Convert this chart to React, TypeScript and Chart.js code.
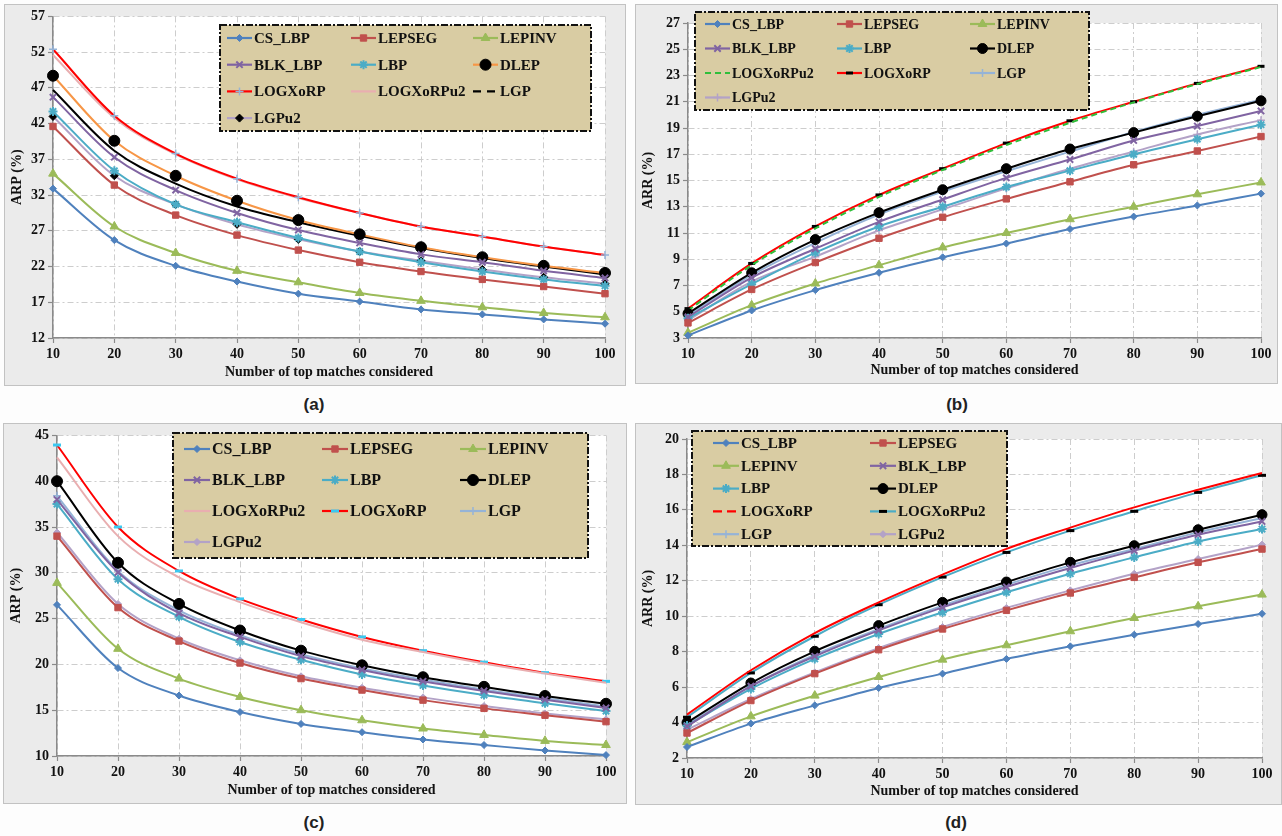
import React, { useEffect, useRef } from "react";
import { Chart, registerables } from "chart.js";
import { drawPoint } from "chart.js/helpers";

Chart.register(...registerables);

// ---------- data ----------
const xLabels = ["10", "20", "30", "40", "50", "60", "70", "80", "90", "100"];

// (a) ARP
const aCS_LBP = [32.9, 25.7, 22.1, 19.9, 18.2, 17.1, 16.0, 15.3, 14.6, 14.0];
const aLEPSEG = [41.6, 33.4, 29.2, 26.4, 24.3, 22.6, 21.3, 20.2, 19.2, 18.2];
const aLEPINV = [35.0, 27.6, 23.9, 21.4, 19.8, 18.3, 17.2, 16.3, 15.5, 14.9];
const aBLK_LBP = [45.7, 37.3, 32.7, 29.5, 27.1, 25.3, 23.7, 22.6, 21.4, 20.4];
const aLBP = [43.7, 35.4, 30.7, 28.2, 26.0, 24.1, 22.6, 21.3, 20.2, 19.3];
const aDLEP = [48.7, 39.6, 34.7, 31.2, 28.5, 26.5, 24.7, 23.3, 22.1, 21.1];
const aLOGXoRP = [52.4, 43.1, 37.8, 34.3, 31.7, 29.5, 27.6, 26.2, 24.8, 23.6];
const aLOGXoRPu2 = [51.6, 42.8, 37.7, 34.2, 31.6, 29.5, 27.6, 26.2, 24.8, 23.6];
const aLGP = [46.7, 38.2, 33.6, 30.4, 28.2, 26.3, 24.6, 23.2, 22.0, 20.9];
const aLGPu2 = [43.0, 34.7, 30.7, 27.9, 25.8, 24.1, 22.8, 21.6, 20.5, 19.6];

// (b) ARR
const bCS_LBP = [3.2, 5.1, 6.65, 7.97, 9.15, 10.2, 11.3, 12.25, 13.1, 14.0];
const bLEPSEG = [4.15, 6.7, 8.75, 10.6, 12.2, 13.6, 14.9, 16.2, 17.25, 18.35];
const bLEPINV = [3.4, 5.5, 7.15, 8.55, 9.9, 11.0, 12.05, 13.0, 13.95, 14.85];
const bBLK_LBP = [4.6, 7.6, 9.8, 11.85, 13.55, 15.2, 16.6, 18.05, 19.15, 20.3];
const bLBP = [4.5, 7.1, 9.5, 11.5, 13.0, 14.5, 15.75, 17.0, 18.15, 19.25];
const bDLEP = [4.86, 7.97, 10.5, 12.55, 14.3, 15.9, 17.4, 18.65, 19.9, 21.07];
const bLOGXoRPu2 = [5.1, 8.55, 11.35, 13.75, 15.8, 17.7, 19.4, 20.95, 22.35, 23.65];
const bLOGXoRP = [5.24, 8.68, 11.5, 13.9, 15.9, 17.85, 19.55, 21.0, 22.4, 23.7];
const bLGP = [4.7, 7.8, 10.25, 12.4, 14.15, 15.7, 17.2, 18.7, 20.0, 21.15];
const bLGPu2 = [4.35, 7.3, 9.2, 11.2, 12.8, 14.4, 15.9, 17.2, 18.5, 19.6];

// (c) ARP
const cCS_LBP = [26.5, 19.6, 16.6, 14.8, 13.5, 12.6, 11.8, 11.2, 10.6, 10.1];
const cLEPSEG = [34.0, 26.2, 22.55, 20.15, 18.45, 17.2, 16.1, 15.2, 14.45, 13.75];
const cLEPINV = [28.9, 21.7, 18.45, 16.45, 15.0, 13.9, 13.0, 12.3, 11.65, 11.2];
const cBLK_LBP = [38.0, 30.05, 25.6, 23.0, 20.9, 19.4, 18.15, 17.1, 16.15, 15.25];
const cLBP = [37.5, 29.3, 25.2, 22.45, 20.5, 18.9, 17.7, 16.65, 15.75, 14.9];
const cDLEP = [40.0, 31.1, 26.6, 23.7, 21.5, 19.9, 18.6, 17.55, 16.55, 15.7];
const cLOGXoRPu2 = [42.6, 34.0, 29.5, 26.8, 24.6, 22.7, 21.35, 20.1, 19.0, 18.0];
const cLOGXoRP = [43.95, 35.0, 30.2, 27.15, 24.9, 23.0, 21.5, 20.25, 19.1, 18.15];
const cLGP = [38.4, 30.2, 25.9, 23.2, 21.1, 19.55, 18.35, 17.25, 16.3, 15.4];
const cLGPu2 = [34.4, 26.6, 22.8, 20.45, 18.7, 17.45, 16.4, 15.45, 14.65, 14.0];

// (d) ARR
const dCS_LBP = [2.62, 3.94, 4.97, 5.95, 6.76, 7.59, 8.3, 8.96, 9.56, 10.14];
const dLEPSEG = [3.41, 5.24, 6.76, 8.11, 9.28, 10.33, 11.31, 12.19, 13.04, 13.79];
const dLEPINV = [2.9, 4.35, 5.52, 6.57, 7.55, 8.36, 9.15, 9.9, 10.56, 11.22];
const dBLK_LBP = [3.79, 6.05, 7.74, 9.2, 10.5, 11.65, 12.72, 13.7, 14.6, 15.35];
const dLBP = [3.83, 5.9, 7.59, 9.0, 10.22, 11.35, 12.4, 13.32, 14.22, 14.92];
const dDLEP = [4.0, 6.23, 8.02, 9.47, 10.78, 11.93, 13.04, 13.98, 14.88, 15.73];
const dLOGXoRP = [4.45, 6.95, 9.05, 10.78, 12.35, 13.8, 15.0, 16.14, 17.14, 18.08];
const dLOGXoRPu2 = [4.3, 6.8, 8.87, 10.65, 12.21, 13.6, 14.83, 15.92, 16.99, 17.95];
const dLGP = [3.88, 6.05, 7.83, 9.28, 10.6, 11.78, 12.87, 13.79, 14.73, 15.54];
const dLGPu2 = [3.6, 5.33, 6.83, 8.2, 9.39, 10.47, 11.46, 12.4, 13.23, 14.04];

// axis ranges
const aY = { min: 12, max: 57, step: 5, title: "ARP (%)" };
const bY = { min: 3, max: 27, step: 2, title: "ARR (%)" };
const cY = { min: 10, max: 45, step: 5, title: "ARP (%)" };
const dY = { min: 2, max: 20, step: 2, title: "ARR (%)" };
const xTitle = "Number of top matches considered";

// ---------- styles ----------
const BLUE = "#4f81bd";
const RED = "#c0504d";
const GREEN = "#9bbb59";
const PURPLE = "#8064a2";
const CYAN = "#4bacc6";
const ORANGE = "#f79646";
const BRIGHT_RED = "#ff0000";
const PINK = "#e9aeb0";
const LIGHT_BLUE = "#95b3d7";
const LAVENDER = "#b3a2c7";
const LIME = "#2fbf3a";

type St = {
  color: string;
  pt: string | false;
  r?: number;
  pc?: string;
  pbw?: number;
  dash?: number[];
  legendDash?: number[];
};

const sCS: St = { color: BLUE, pt: "rectRot", r: 3.5 };
const sLEPSEG: St = { color: RED, pt: "rect", r: 4.5 };
const sLEPINV: St = { color: GREEN, pt: "triangle", r: 5 };
const sBLK: St = { color: PURPLE, pt: "crossRot", r: 4.5, pbw: 2 };
const sLBP: St = { color: CYAN, pt: "star", r: 4.5, pbw: 2 };
const sDLEPblack: St = { color: "#000", pt: "circle", r: 5, pc: "#000" };
const sLGPblue: St = { color: LIGHT_BLUE, pt: "cross", r: 4, pbw: 1.5 };
const sLGPu2lav: St = { color: LAVENDER, pt: "rectRot", r: 3.5 };

type Ser = { label: string; data: number[]; st: St };

const panelA: Ser[] = [
  { label: "CS_LBP", data: aCS_LBP, st: sCS },
  { label: "LEPSEG", data: aLEPSEG, st: sLEPSEG },
  { label: "LEPINV", data: aLEPINV, st: sLEPINV },
  { label: "BLK_LBP", data: aBLK_LBP, st: sBLK },
  { label: "LBP", data: aLBP, st: sLBP },
  { label: "DLEP", data: aDLEP, st: { color: ORANGE, pt: "circle", r: 5.5, pc: "#000" } },
  { label: "LOGXoRP", data: aLOGXoRP, st: { color: BRIGHT_RED, pt: "cross", r: 4, pc: LIGHT_BLUE, pbw: 1.5 } },
  { label: "LOGXoRPu2", data: aLOGXoRPu2, st: { color: PINK, pt: false } },
  { label: "LGP", data: aLGP, st: { color: "#000", pt: false, legendDash: [8, 6] } },
  { label: "LGPu2", data: aLGPu2, st: { color: LAVENDER, pt: "rectRot", r: 4, pc: "#000" } },
];

const panelB: Ser[] = [
  { label: "CS_LBP", data: bCS_LBP, st: sCS },
  { label: "LEPSEG", data: bLEPSEG, st: sLEPSEG },
  { label: "LEPINV", data: bLEPINV, st: sLEPINV },
  { label: "BLK_LBP", data: bBLK_LBP, st: sBLK },
  { label: "LBP", data: bLBP, st: sLBP },
  { label: "DLEP", data: bDLEP, st: sDLEPblack },
  { label: "LOGXoRPu2", data: bLOGXoRPu2, st: { color: LIME, pt: false, dash: [6, 4] } },
  { label: "LOGXoRP", data: bLOGXoRP, st: { color: BRIGHT_RED, pt: "line", r: 3.5, pc: "#000", pbw: 3 } },
  { label: "LGP", data: bLGP, st: sLGPblue },
  { label: "LGPu2", data: bLGPu2, st: { color: LAVENDER, pt: "cross", r: 4, pbw: 1.5 } },
];

const panelC: Ser[] = [
  { label: "CS_LBP", data: cCS_LBP, st: sCS },
  { label: "LEPSEG", data: cLEPSEG, st: sLEPSEG },
  { label: "LEPINV", data: cLEPINV, st: sLEPINV },
  { label: "BLK_LBP", data: cBLK_LBP, st: sBLK },
  { label: "LBP", data: cLBP, st: sLBP },
  { label: "DLEP", data: cDLEP, st: { ...sDLEPblack, r: 5.5 } },
  { label: "LOGXoRPu2", data: cLOGXoRPu2, st: { color: PINK, pt: false } },
  { label: "LOGXoRP", data: cLOGXoRP, st: { color: BRIGHT_RED, pt: "line", r: 4, pc: "#3cc8f0", pbw: 3 } },
  { label: "LGP", data: cLGP, st: sLGPblue },
  { label: "LGPu2", data: cLGPu2, st: sLGPu2lav },
];

const panelD: Ser[] = [
  { label: "CS_LBP", data: dCS_LBP, st: sCS },
  { label: "LEPSEG", data: dLEPSEG, st: sLEPSEG },
  { label: "LEPINV", data: dLEPINV, st: sLEPINV },
  { label: "BLK_LBP", data: dBLK_LBP, st: sBLK },
  { label: "LBP", data: dLBP, st: sLBP },
  { label: "DLEP", data: dDLEP, st: sDLEPblack },
  { label: "LOGXoRP", data: dLOGXoRP, st: { color: BRIGHT_RED, pt: false, legendDash: [9, 5] } },
  { label: "LOGXoRPu2", data: dLOGXoRPu2, st: { color: CYAN, pt: "line", r: 4, pc: "#000", pbw: 3 } },
  { label: "LGP", data: dLGP, st: sLGPblue },
  { label: "LGPu2", data: dLGPu2, st: sLGPu2lav },
];

// ---------- layout ----------
type LegendCfg = {
  x: number; y: number; w: number; h: number;
  cols: number[]; row0: number; pitch: number; lineLen: number; font: number;
};

type PanelCfg = {
  left: number; top: number; w: number; h: number;
  yAxisW: number; xAxisH: number; padTop: number; padRight: number;
  y: { min: number; max: number; step: number; title: string };
  series: Ser[];
  legend: LegendCfg;
  caption: string; capX: number; capY: number;
};

const panels: PanelCfg[] = [
  {
    left: 5, top: 5, w: 620, h: 380, yAxisW: 48, xAxisH: 47, padTop: 11, padRight: 20,
    y: aY, series: panelA,
    legend: { x: 215, y: 20, w: 371, h: 106, cols: [222, 346, 468], row0: 33, pitch: 26.7, lineLen: 25, font: 15 },
    caption: "(a)", capX: 314, capY: 405,
  },
  {
    left: 636, top: 5, w: 641, h: 378, yAxisW: 52, xAxisH: 45, padTop: 18, padRight: 16,
    y: bY, series: panelB,
    legend: { x: 59, y: 7, w: 394, h: 98, cols: [69, 201, 334], row0: 19, pitch: 24.5, lineLen: 25, font: 14 },
    caption: "(b)", capX: 957, capY: 405,
  },
  {
    left: 4, top: 424, w: 622, h: 379, yAxisW: 53, xAxisH: 47, padTop: 10, padRight: 20,
    y: cY, series: panelC,
    legend: { x: 169, y: 9, w: 415, h: 125, cols: [180, 318, 456], row0: 25, pitch: 31, lineLen: 26, font: 16 },
    caption: "(c)", capX: 314, capY: 823,
  },
  {
    left: 636, top: 424, w: 645, h: 380, yAxisW: 51, xAxisH: 46, padTop: 15, padRight: 19,
    y: dY, series: panelD,
    legend: { x: 56, y: 7, w: 315, h: 115, cols: [77, 234], row0: 19, pitch: 22.8, lineLen: 26, font: 15 },
    caption: "(d)", capX: 956, capY: 823,
  },
];

const SERIF = "'Liberation Serif', 'Times New Roman', serif";

function makeLegendPlugin(cfg: LegendCfg, series: Ser[]) {
  return {
    id: "boxLegend",
    afterDraw(chart: any) {
      const ctx: CanvasRenderingContext2D = chart.ctx;
      ctx.save();
      ctx.fillStyle = "#d9cca3";
      ctx.fillRect(cfg.x, cfg.y, cfg.w, cfg.h);
      ctx.strokeStyle = "#111";
      ctx.lineWidth = 2;
      ctx.setLineDash([7, 2, 2, 2]);
      ctx.strokeRect(cfg.x, cfg.y, cfg.w, cfg.h);
      ctx.setLineDash([]);
      const nc = cfg.cols.length;
      series.forEach((s, i) => {
        const cx = cfg.cols[i % nc];
        const cy = cfg.row0 + Math.floor(i / nc) * cfg.pitch;
        const st = s.st;
        ctx.save();
        ctx.strokeStyle = st.color;
        ctx.lineWidth = 2.2;
        ctx.setLineDash(st.legendDash || st.dash || []);
        ctx.beginPath();
        ctx.moveTo(cx, cy);
        ctx.lineTo(cx + cfg.lineLen, cy);
        ctx.stroke();
        ctx.setLineDash([]);
        if (st.pt) {
          const pc = st.pc || st.color;
          ctx.fillStyle = pc;
          ctx.strokeStyle = pc;
          ctx.lineWidth = st.pbw ?? 1;
          drawPoint(ctx, { pointStyle: st.pt as any, radius: st.r ?? 4, rotation: 0, borderWidth: st.pbw ?? 1 }, cx + cfg.lineLen / 2, cy);
        }
        ctx.restore();
        ctx.fillStyle = "#111";
        ctx.font = `bold ${cfg.font}px ${SERIF}`;
        ctx.textBaseline = "middle";
        ctx.textAlign = "left";
        ctx.fillText(s.label, cx + cfg.lineLen + 2, cy + 1);
      });
      ctx.restore();
    },
  };
}

const plotBg = {
  id: "plotBg",
  beforeDraw(chart: any) {
    const { ctx, chartArea } = chart;
    ctx.save();
    ctx.fillStyle = "#ffffff";
    ctx.fillRect(chartArea.left, chartArea.top, chartArea.right - chartArea.left, chartArea.bottom - chartArea.top);
    ctx.restore();
  },
};

function buildConfig(p: PanelCfg): any {
  const datasets = p.series.map((s) => {
    const pc = s.st.pc || s.st.color;
    return {
      label: s.label,
      data: s.data,
      borderColor: s.st.color,
      backgroundColor: pc,
      borderWidth: 2,
      borderDash: s.st.dash || [],
      pointStyle: s.st.pt || "circle",
      pointRadius: s.st.pt ? s.st.r ?? 4 : 0,
      pointBackgroundColor: pc,
      pointBorderColor: pc,
      pointBorderWidth: s.st.pbw ?? 1,
      cubicInterpolationMode: "monotone",
      fill: false,
      clip: false,
    };
  });
  const tickFont = { family: SERIF, size: 14, weight: "bold" };
  const gridCommon = {
    color: "#cdcdcd",
    lineWidth: 1,
    tickLength: 5,
    tickColor: "#8a8a8a",
    tickWidth: 1.2,
  };
  return {
    type: "line",
    data: { labels: xLabels, datasets },
    options: {
      animation: false,
      responsive: false,
      devicePixelRatio: 1,
      events: [],
      layout: { autoPadding: false, padding: { left: 0, right: p.padRight, top: p.padTop, bottom: 0 } },
      plugins: { legend: { display: false }, tooltip: { enabled: false }, title: { display: false } },
      scales: {
        x: {
          type: "category",
          offset: false,
          grid: gridCommon,
          border: { display: true, color: "#8a8a8a", width: 1.5, dash: [6, 3, 2, 3] },
          ticks: { color: "#111", font: tickFont, padding: 3, maxRotation: 0, autoSkip: false },
          title: { display: true, text: xTitle, color: "#111", font: tickFont, padding: { top: 0, bottom: 4 } },
          afterFit: (s: any) => { s.height = p.xAxisH; },
        },
        y: {
          type: "linear",
          min: p.y.min,
          max: p.y.max,
          grid: gridCommon,
          border: { display: true, color: "#8a8a8a", width: 1.5, dash: [6, 3, 2, 3] },
          ticks: { color: "#111", font: tickFont, stepSize: p.y.step, padding: 3 },
          title: { display: true, text: p.y.title, color: "#111", font: tickFont, padding: { top: 4, bottom: 0 } },
          afterFit: (s: any) => { s.width = p.yAxisW; },
        },
      },
    },
    plugins: [plotBg, makeLegendPlugin(p.legend, p.series)],
  };
}

function Panel({ p }: { p: PanelCfg }) {
  const ref = useRef<HTMLCanvasElement>(null);
  useEffect(() => {
    const chart = new Chart(ref.current as HTMLCanvasElement, buildConfig(p));
    return () => chart.destroy();
  }, [p]);
  return (
    <>
      <div
        style={{
          position: "absolute",
          left: p.left,
          top: p.top,
          width: p.w,
          height: p.h,
          background: "#ebebeb",
          outline: "1px solid #c2c2c2",
        }}
      >
        <canvas ref={ref} width={p.w} height={p.h} style={{ display: "block", width: p.w, height: p.h }} />
      </div>
      <div
        style={{
          position: "absolute",
          left: p.capX,
          top: p.capY,
          transform: "translate(-50%, -50%)",
          fontFamily: "'Liberation Sans', Arial, sans-serif",
          fontSize: 17,
          fontWeight: "bold",
          color: "#222",
          whiteSpace: "nowrap",
        }}
      >
        {p.caption}
      </div>
    </>
  );
}

export default function App() {
  return (
    <div style={{ position: "fixed", left: 0, top: 0, width: 1282, height: 836, background: "#fdfdfd", overflow: "hidden" }}>
      {panels.map((p) => (
        <Panel key={p.caption} p={p} />
      ))}
    </div>
  );
}
